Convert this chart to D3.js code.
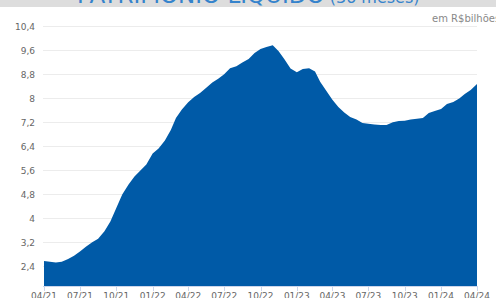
<!DOCTYPE html>
<html>
<head>
<meta charset="utf-8">
<script src="https://cdn.jsdelivr.net/npm/d3@7"></script>
<style>
body { margin: 0; background: #fff; }
svg { display: block; font-family: "DejaVu Sans", sans-serif; }
</style>
</head>
<body>
<svg id="chart" width="496" height="298"></svg>
<script>
// values, twice a month, R$ billions
var dates = ['2021-04-01','2021-04-16','2021-05-01','2021-05-16','2021-06-01','2021-06-16','2021-07-01','2021-07-16',
    '2021-08-01','2021-08-16','2021-09-01','2021-09-16','2021-10-01','2021-10-16','2021-11-01','2021-11-16',
    '2021-12-01','2021-12-16','2022-01-01','2022-01-16','2022-02-01','2022-02-16','2022-03-01','2022-03-16',
    '2022-04-01','2022-04-16','2022-05-01','2022-05-16','2022-06-01','2022-06-16','2022-07-01','2022-07-16',
    '2022-08-01','2022-08-16','2022-09-01','2022-09-16','2022-10-01','2022-10-16','2022-11-01','2022-11-16',
    '2022-12-01','2022-12-16','2023-01-01','2023-01-16','2023-02-01','2023-02-16','2023-03-01','2023-03-16',
    '2023-04-01','2023-04-16','2023-05-01','2023-05-16','2023-06-01','2023-06-16','2023-07-01','2023-07-16',
    '2023-08-01','2023-08-16','2023-09-01','2023-09-16','2023-10-01','2023-10-16','2023-11-01','2023-11-16',
    '2023-12-01','2023-12-16','2024-01-01','2024-01-16','2024-02-01','2024-02-16','2024-03-01','2024-03-16',
    '2024-04-01'];
var values = [2.57, 2.54, 2.52, 2.54, 2.63, 2.74, 2.88, 3.04,
    3.19, 3.31, 3.56, 3.88, 4.33, 4.78, 5.12, 5.38,
    5.58, 5.78, 6.15, 6.32, 6.58, 6.93, 7.33, 7.62,
    7.86, 8.03, 8.17, 8.33, 8.52, 8.64, 8.79, 8.99,
    9.06, 9.18, 9.30, 9.50, 9.63, 9.70, 9.76, 9.56,
    9.28, 8.98, 8.86, 8.97, 8.99, 8.88, 8.54, 8.25,
    7.94, 7.70, 7.52, 7.37, 7.28, 7.17, 7.14, 7.12,
    7.10, 7.10, 7.19, 7.23, 7.24, 7.28, 7.31, 7.33,
    7.50, 7.57, 7.63, 7.80, 7.87, 7.98, 8.13, 8.27,
    8.47];
var yTicks = [2.4, 3.2, 4, 4.8, 5.6, 6.4, 7.2, 8, 8.8, 9.6, 10.4];
var xTicks = ['2021-04-01','2021-07-01','2021-10-01','2022-01-01','2022-04-01','2022-07-01',
    '2022-10-01','2023-01-01','2023-04-01','2023-07-01','2023-10-01','2024-01-01','2024-04-01'];

var parse = d3.timeParse('%Y-%m-%d');
var data = dates.map(function(d, i){ return { date: parse(d), value: values[i] }; });

var svg = d3.select('#chart');
var plotLeft = 44, plotRight = 477, plotTop = 26, plotBottom = 286;

// title band, cut off at the top of the frame
svg.append('rect').attr('x', 0).attr('y', 0).attr('width', 496).attr('height', 7).attr('fill', '#dddddd');
var title = svg.append('text').attr('x', 77).attr('y', 3).attr('fill', '#3583cc');
title.append('tspan').attr('font-size', 23).text('PATRIMÔNIO LÍQUIDO');
title.append('tspan').attr('font-size', 16).attr('dx', 5).text('(36 meses)');

var x = d3.scaleTime()
    .domain([parse('2021-04-01'), parse('2024-04-01')])
    .range([plotLeft, plotRight]);
var y = d3.scaleLinear()
    .domain([2.4 - 20 / 30, 10.4])
    .range([plotBottom, plotTop]);

var fmt = function(v){ return String(v).replace('.', ','); };

// grid lines
svg.append('g').selectAll('line').data(yTicks).enter().append('line')
    .attr('x1', plotLeft - 1).attr('x2', plotRight)
    .attr('y1', function(d){ return Math.round(y(d)) + 0.5; })
    .attr('y2', function(d){ return Math.round(y(d)) + 0.5; })
    .attr('stroke', '#ececec');

svg.append('g').selectAll('text').data(yTicks).enter().append('text')
    .attr('x', 35)
    .attr('y', function(d){ return y(d) + 3.5; })
    .attr('text-anchor', 'end')
    .attr('font-size', 9)
    .attr('fill', '#666')
    .text(fmt);

// area
var area = d3.area()
    .x(function(d){ return x(d.date); })
    .y0(plotBottom)
    .y1(function(d){ return y(d.value); });
svg.append('path').datum(data).attr('d', area).attr('fill', '#005aa7');

// x axis
svg.append('line').attr('x1', plotLeft - 1).attr('x2', plotRight).attr('y1', plotBottom + 0.5).attr('y2', plotBottom + 0.5)
    .attr('stroke', '#ccd6eb');
var xg = svg.append('g').selectAll('g').data(xTicks.map(parse)).enter().append('g');
xg.append('line')
    .attr('x1', function(d){ return Math.round(x(d)) + 0.5; })
    .attr('x2', function(d){ return Math.round(x(d)) + 0.5; })
    .attr('y1', plotBottom).attr('y2', plotBottom + 5)
    .attr('stroke', '#ccd6eb');
xg.append('text')
    .attr('x', function(d){ return x(d); })
    .attr('y', 298.5)
    .attr('text-anchor', 'middle')
    .attr('font-size', 9)
    .attr('fill', '#666')
    .text(d3.timeFormat('%m/%y'));

svg.append('text').attr('x', 432).attr('y', 22)
    .attr('font-size', 10).attr('fill', '#888')
    .text('em R$bilhões');
</script>
</body>
</html>
